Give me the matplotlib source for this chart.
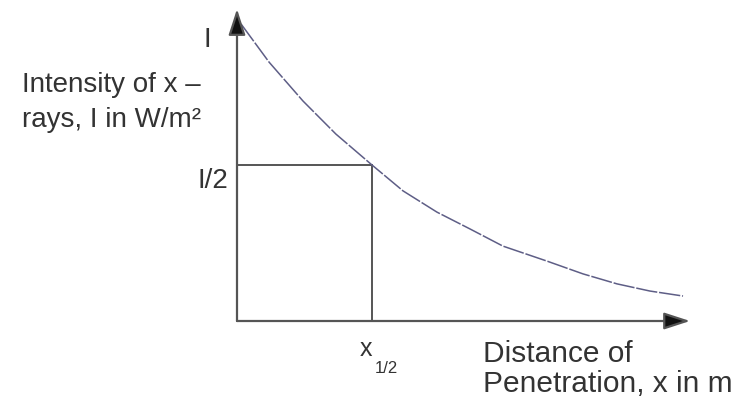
import matplotlib
matplotlib.use("Agg")
import matplotlib.pyplot as plt

# === D A T A ===

# distance in units of x_1/2, intensity in units of I
distance = [0.03, 0.237, 0.489, 0.733, 1.0, 1.23, 1.481, 1.726, 1.97, 2.296, 2.563, 2.815, 3.059, 3.304]
intensity = [0.952, 0.83, 0.705, 0.599, 0.5, 0.417, 0.349, 0.295, 0.24, 0.192, 0.151, 0.119, 0.096, 0.08]

x_half = 1.0
half_level = 0.5
x_axis_end = 3.356
y_axis_end = 1.0

y_label_lines = ["Intensity of x \u2013", "rays, I in W/m\u00b2"]
x_label_lines = ["Distance of", "Penetration, x in m"]
top_label = "I"
half_label = "I/2"

# === F I G U R E ===

W, H = 732, 402
plt.rcParams['font.family'] = ['Liberation Sans', 'DejaVu Sans']

fig = plt.figure(figsize=(W / 100, H / 100), dpi=100)
ax = fig.add_axes([0, 0, 1, 1])
ax.set_xlim(-237 / 135, (W - 237) / 135)
ax.set_ylim((322 - H) / 312, 322 / 312)
ax.axis('off')

def px(x, y):
  # pixel position -> figure fraction
  return x / W, 1 - y / H

text_col = '#333333'
axis_col = '#555555'

# axes with arrow heads
head = '-|>,head_length=0.4,head_width=0.13'
ax.annotate('', xy=(0, y_axis_end), xytext=(0, 0),
            arrowprops=dict(arrowstyle=head, color=axis_col, lw=1.6, mutation_scale=40,
                            shrinkA=0, shrinkB=0, fc='#111111', ec=axis_col))
ax.annotate('', xy=(x_axis_end, 0), xytext=(0, 0),
            arrowprops=dict(arrowstyle=head, color=axis_col, lw=1.6, mutation_scale=40,
                            shrinkA=0, shrinkB=0, fc='#111111', ec=axis_col))

# half-value guide lines
ax.plot([0, x_half], [half_level, half_level], color=axis_col, lw=1.4)
ax.plot([x_half, x_half], [0, half_level], color=axis_col, lw=1.4)

# decay curve
ax.plot(distance, intensity, color='#5e5e86', lw=1.1, dashes=(14, 1.2),
        solid_joinstyle='round', dash_joinstyle='round')

# texts
fs_left = 20
fs_bottom = 21.5
fig.text(*px(22, 92), y_label_lines[0], fontsize=fs_left, color=text_col, va='baseline', ha='left')
fig.text(*px(22, 127), y_label_lines[1], fontsize=fs_left, color=text_col, va='baseline', ha='left')
fig.text(*px(211, 47), top_label, fontsize=fs_left, color=text_col, va='baseline', ha='right')
fig.text(*px(228, 188), half_label, fontsize=fs_left, color=text_col, va='baseline', ha='right')

fig.text(*px(360, 356), 'x', fontsize=18, color=text_col, va='baseline', ha='left')
fig.text(*px(375, 373), '1/2', fontsize=12, color=text_col, va='baseline', ha='left')

fig.text(*px(483, 362), x_label_lines[0], fontsize=fs_bottom, color=text_col, va='baseline', ha='left')
fig.text(*px(483, 392), x_label_lines[1], fontsize=fs_bottom, color=text_col, va='baseline', ha='left')

fig.savefig('out.png', dpi=100, facecolor='white')
